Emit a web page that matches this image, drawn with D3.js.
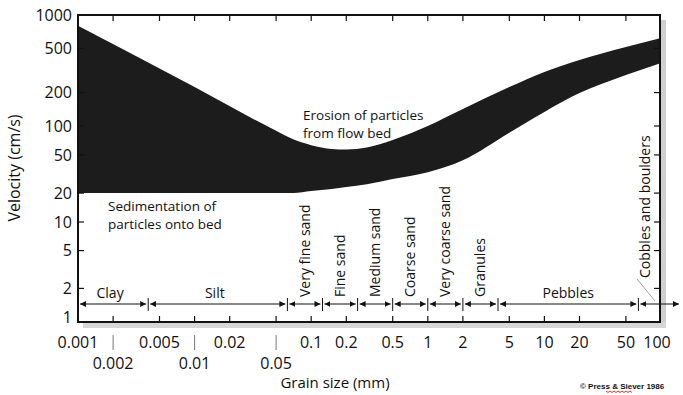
<!DOCTYPE html>
<html>
<head>
<meta charset="utf-8">
<script src="https://cdn.jsdelivr.net/npm/d3@7"></script>
<style>
  body { margin: 0; background: #fff; }
  svg text { font-family: 'Open Sans', sans-serif; fill: #111; }
</style>
</head>
<body>
<div id="chart"></div>
<script>
// grain size (mm) and velocity (cm/s)
const grain = [0.001, 0.01, 0.05, 0.07, 0.1, 0.15, 0.2, 0.3, 0.5, 1, 2, 5, 10, 20, 50, 100]
const erosionTop = [800, 225, 89, 72.6, 63.2, 57.7, 56.9, 59.7, 71.5, 100, 142, 224, 307, 393, 515, 620]
const bandBottom = [20, 20, 20, 20, 21, 22.1, 23.2, 24.8, 28, 33, 44, 85, 134, 198, 288, 370]

const yTicks = [1, 2, 5, 10, 20, 50, 100, 200, 500, 1000]
const xTicksRow1 = [0.001, 0.005, 0.02, 0.1, 0.2, 0.5, 1, 2, 5, 10, 20, 50, 100]
const xTicksRow2 = [0.002, 0.01, 0.05]

const classBounds = [0.001, 0.004, 0.0625, 0.125, 0.25, 0.5, 1, 2, 4, 64, 180]
const classNames = ['Clay', 'Silt', 'Very fine sand', 'Fine sand', 'Medium sand',
  'Coarse sand', 'Very coarse sand', 'Granules', 'Pebbles', 'Cobbles and boulders']
const flatClasses = ['Clay', 'Silt', 'Pebbles']

const W = 683, H = 395
const frame = {left: 78, right: 660, top: 15, bottom: 322}

const svg = d3.select('#chart').append('svg')
  .attr('width', W).attr('height', H)

const x = d3.scaleLog().domain([0.001, 100]).range([frame.left, 661])
// the hand drawn axis is a bit stretched in the top decade
const y = d3.scaleLog().domain([1, 10, 100, 1000]).range([317, 222, 126, 15])

// shadow of the frame
svg.append('rect')
  .attr('x', frame.right).attr('y', frame.top + 5)
  .attr('width', 6).attr('height', frame.bottom - frame.top + 1)
  .attr('fill', '#cfcfcf')
svg.append('rect')
  .attr('x', frame.left + 5).attr('y', frame.bottom)
  .attr('width', frame.right - frame.left + 1).attr('height', 6)
  .attr('fill', '#d6d6d6')

// the velocity band
const area = d3.area()
  .x((d, i) => x(grain[i]))
  .y0((d, i) => y(bandBottom[i]))
  .y1((d, i) => y(erosionTop[i]))
  .curve(d3.curveMonotoneX)

svg.append('path')
  .datum(grain)
  .attr('d', area)
  .attr('fill', '#1c1c1c')

// frame
svg.append('rect')
  .attr('x', frame.left).attr('y', frame.top)
  .attr('width', frame.right - frame.left).attr('height', frame.bottom - frame.top)
  .attr('fill', 'none').attr('stroke', '#111').attr('stroke-width', 2)

// y ticks, left and right, pointing inward
const yInner = yTicks.filter(d => d > 1 && d < 1000)
svg.selectAll('.ytl').data(yInner).enter().append('line')
  .attr('x1', frame.left).attr('x2', frame.left + 6)
  .attr('y1', d => y(d)).attr('y2', d => y(d))
  .attr('stroke', '#111').attr('stroke-width', 1.2)
svg.selectAll('.ytr').data(yInner).enter().append('line')
  .attr('x1', frame.right).attr('x2', frame.right - 6)
  .attr('y1', d => y(d)).attr('y2', d => y(d))
  .attr('stroke', '#111').attr('stroke-width', 1.2)

svg.selectAll('.ylab').data(yTicks).enter().append('text')
  .attr('x', 72).attr('y', d => y(d))
  .attr('dy', '0.36em')
  .attr('text-anchor', 'end')
  .attr('font-size', 16)
  .text(d => d)

// x ticks, top and bottom
const xInner = xTicksRow1.concat(xTicksRow2).filter(d => d > 0.001 && d < 100)
svg.selectAll('.xtb').data(xInner).enter().append('line')
  .attr('x1', d => x(d)).attr('x2', d => x(d))
  .attr('y1', frame.bottom).attr('y2', frame.bottom - 6)
  .attr('stroke', '#111').attr('stroke-width', 1.2)
svg.selectAll('.xtt').data(xInner).enter().append('line')
  .attr('x1', d => x(d)).attr('x2', d => x(d))
  .attr('y1', frame.top).attr('y2', frame.top + 6)
  .attr('stroke', '#111').attr('stroke-width', 1.2)

svg.selectAll('.xlab1').data(xTicksRow1).enter().append('text')
  .attr('x', d => d === 100 ? x(d) - 4 : x(d)).attr('y', 348)
  .attr('text-anchor', 'middle')
  .attr('font-size', 16)
  .text(d => d)

svg.selectAll('.xlab2').data(xTicksRow2).enter().append('text')
  .attr('x', d => x(d)).attr('y', 369)
  .attr('text-anchor', 'middle')
  .attr('font-size', 16)
  .text(d => d)

svg.selectAll('.xsep').data(xTicksRow2).enter().append('line')
  .attr('x1', d => x(d)).attr('x2', d => x(d))
  .attr('y1', 335).attr('y2', 350)
  .attr('stroke', '#777').attr('stroke-width', 1)

// axis titles
svg.append('text')
  .attr('transform', 'translate(20,168) rotate(-90)')
  .attr('text-anchor', 'middle')
  .attr('font-size', 16)
  .text('Velocity (cm/s)')

svg.append('text')
  .attr('x', 335).attr('y', 388)
  .attr('text-anchor', 'middle')
  .attr('font-size', 15)
  .text('Grain size (mm)')

// grain size classes
const defs = svg.append('defs')
defs.append('marker')
  .attr('id', 'arr')
  .attr('viewBox', '0 0 6 6')
  .attr('refX', 6).attr('refY', 3)
  .attr('markerWidth', 6).attr('markerHeight', 6)
  .attr('markerUnits', 'userSpaceOnUse')
  .attr('orient', 'auto-start-reverse')
  .append('path').attr('d', 'M0,0L6,3L0,6Z').attr('fill', '#111')

const rowY = 304
const segs = classNames.map((name, i) => ({
  name: name,
  x0: x(classBounds[i]),
  x1: Math.min(x(classBounds[i + 1]), 681)
}))

svg.selectAll('.seg').data(segs).enter().append('line')
  .attr('x1', d => d.x0 + 2).attr('x2', d => d.x1 - 2)
  .attr('y1', rowY).attr('y2', rowY)
  .attr('stroke', '#111').attr('stroke-width', 1)
  .attr('marker-start', 'url(#arr)')
  .attr('marker-end', 'url(#arr)')

svg.selectAll('.bound').data(classBounds.slice(1, -1)).enter().append('line')
  .attr('x1', d => x(d)).attr('x2', d => x(d))
  .attr('y1', rowY - 6).attr('y2', rowY + 7)
  .attr('stroke', '#111').attr('stroke-width', 1)

const flat = segs.filter(d => flatClasses.includes(d.name))
svg.selectAll('.clab').data(flat).enter().append('text')
  .attr('x', d => (d.x0 + d.x1) / 2 + (d.name === 'Pebbles' ? 0 : -3))
  .attr('y', 298)
  .attr('text-anchor', 'middle')
  .attr('font-size', 14)
  .text(d => d.name)

const upright = segs.filter(d => !flatClasses.includes(d.name))
svg.selectAll('.vlab').data(upright).enter().append('text')
  .attr('transform', d => {
    const cx = d.name === 'Cobbles and boulders' ? 650 : (d.x0 + d.x1) / 2 + 5
    const by = d.name === 'Cobbles and boulders' ? 278 : 297
    return 'translate(' + cx + ',' + by + ') rotate(-90)'
  })
  .attr('font-size', 14)
  .text(d => d.name)

// leader for cobbles
svg.append('line')
  .attr('x1', 637).attr('y1', 279).attr('x2', 655).attr('y2', 301)
  .attr('stroke', '#888').attr('stroke-width', 0.8)

// annotations
const ann = [
  {x: 303, y: 120, t: 'Erosion of particles'},
  {x: 303, y: 138, t: 'from flow bed'},
  {x: 108, y: 211, t: 'Sedimentation of'},
  {x: 108, y: 229, t: 'particles onto bed'}
]
svg.selectAll('.ann').data(ann).enter().append('text')
  .attr('x', d => d.x).attr('y', d => d.y)
  .attr('font-size', 13.5)
  .text(d => d.t)

// credit
svg.append('text')
  .attr('x', 580).attr('y', 389)
  .style('font-family', 'Liberation Sans, Arial, sans-serif')
  .attr('font-size', 8)
  .attr('font-weight', 'bold')
  .text('\u00a9 Press & Siever 1986')
svg.append('path')
  .attr('d', d3.range(0, 28, 2).map((v, i) => (i ? 'L' : 'M') + (606 + v) + ',' + (391 + (i % 2 ? 1.5 : 0))).join(''))
  .attr('fill', 'none').attr('stroke', '#d00').attr('stroke-width', 0.8)
</script>
</body>
</html>
